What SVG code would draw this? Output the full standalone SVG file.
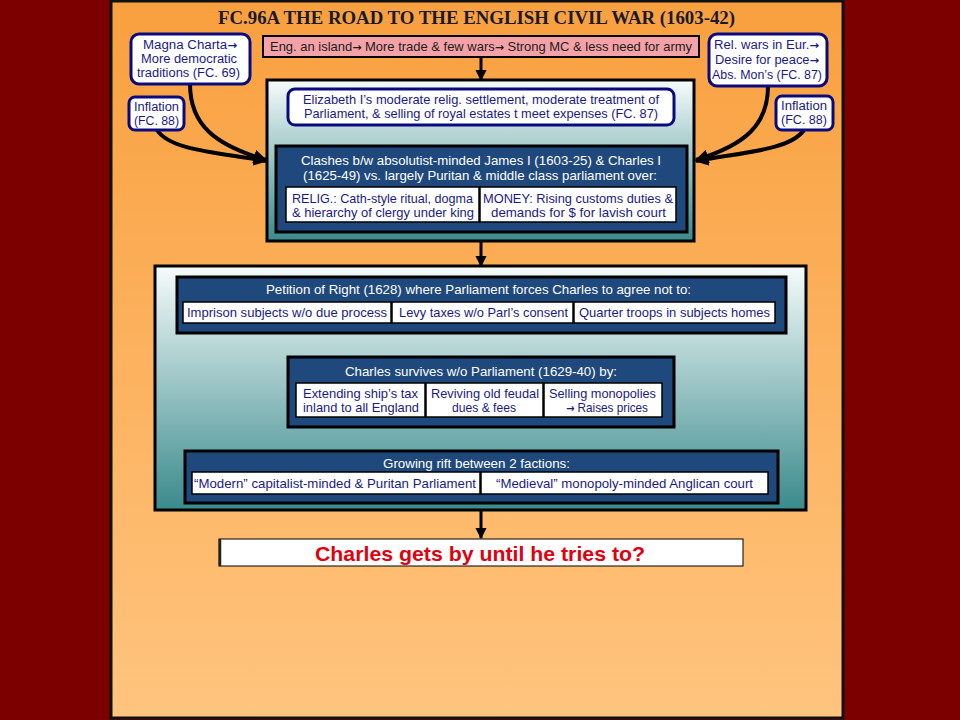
<svg xmlns="http://www.w3.org/2000/svg" width="960" height="720" viewBox="0 0 960 720">
<defs>
<linearGradient id="bg" x1="0" y1="0" x2="0" y2="1">
<stop offset="0" stop-color="#f9a03f"/>
<stop offset="1" stop-color="#ffc47e"/>
</linearGradient>
<linearGradient id="teal" x1="0" y1="0" x2="0" y2="1">
<stop offset="0" stop-color="#f6fbfb"/>
<stop offset="1" stop-color="#3a8a8c"/>
</linearGradient>
<marker id="ah" viewBox="0 0 10 10" refX="9" refY="5" markerWidth="3.4" markerHeight="3.4" orient="auto" markerUnits="strokeWidth">
<path d="M0,0 L10,5 L0,10 z" fill="#000"/>
</marker>
<marker id="ahv" viewBox="0 0 10 10" refX="9" refY="5" markerWidth="3.8" markerHeight="3.8" orient="auto" markerUnits="strokeWidth">
<path d="M0,0 L10,5 L0,10 z" fill="#000"/>
</marker>
</defs>
<style>
.t{font-family:"Liberation Sans",Arial,sans-serif;font-size:13px;text-anchor:middle}
.s{font-size:12.5px}
.ar{font-family:"DejaVu Sans",sans-serif;font-weight:bold;font-size:11px}
.nv{fill:#1a1a85}
.wh{fill:#ffffff}
.dk{fill:#1c1c1c}
.rb{fill:#fff;stroke:#0a0a80;stroke-width:3}
.db{fill:#1f497d;stroke:#000;stroke-width:3}
.wb{fill:#fff;stroke:#000;stroke-width:1.5}
.tl{fill:url(#teal);stroke:#000;stroke-width:3}
.cv{fill:none;stroke:#000;stroke-width:4;marker-end:url(#ah)}
.vt{fill:none;stroke:#000;stroke-width:3;marker-end:url(#ahv)}
</style>
<rect x="0" y="0" width="960" height="720" fill="#7d0000"/>
<rect x="111" y="1" width="732" height="717" fill="url(#bg)" stroke="#111" stroke-width="3"/>
<text x="476.5" y="24" text-anchor="middle" font-family="'Liberation Serif','Times New Roman',serif" font-weight="bold" font-size="19" fill="#1a1a2a" textLength="517" lengthAdjust="spacingAndGlyphs">FC.96A THE ROAD TO THE ENGLISH CIVIL WAR (1603-42)</text>

<g id="connectors">
<path class="vt" d="M481,57 L481,80"/>
<path class="vt" d="M481,125 L481,146"/>
<path class="vt" d="M481,241 L481,266"/>
<path class="vt" d="M481,333 L481,357"/>
<path class="vt" d="M481,427 L481,451"/>
<path class="vt" d="M481,510 L481,538"/>
<path class="cv" d="M190,84 C190,125 215,145 266,160"/>
<path class="cv" d="M157,130 C170,150 215,152 266,161"/>
<path class="cv" d="M768,86 C768,125 745,145 696,160"/>
<path class="cv" d="M804,130 C790,150 745,152 696,161"/>
</g>

<g id="island">
<rect x="263" y="36" width="436" height="21" fill="#f4a2a8" stroke="#000" stroke-width="2"/>
<text class="t dk" x="481" y="51" textLength="422" lengthAdjust="spacingAndGlyphs">Eng. an island<tspan class="ar">→</tspan> More trade &amp; few wars<tspan class="ar">→</tspan> Strong MC &amp; less need for army</text>
</g>

<g id="magna">
<rect class="rb" x="131" y="34" width="119" height="50" rx="8"/>
<text class="t s nv" x="190" y="48.5" textLength="94" lengthAdjust="spacingAndGlyphs">Magna Charta<tspan class="ar">→</tspan></text>
<text class="t s nv" x="189" y="63" textLength="96" lengthAdjust="spacingAndGlyphs">More democratic</text>
<text class="t s nv" x="188.5" y="77" textLength="103" lengthAdjust="spacingAndGlyphs">traditions (FC. 69)</text>
</g>
<g id="inflation-left">
<rect class="rb" x="129" y="97" width="55" height="33" rx="6"/>
<text class="t s nv" x="156.5" y="111" textLength="45" lengthAdjust="spacingAndGlyphs">Inflation</text>
<text class="t s nv" x="156.5" y="125" textLength="45" lengthAdjust="spacingAndGlyphs">(FC. 88)</text>
</g>
<g id="relwars">
<rect class="rb" x="709" y="34" width="118" height="52" rx="8"/>
<text class="t s nv" x="766.5" y="48.5" textLength="105" lengthAdjust="spacingAndGlyphs">Rel. wars in Eur.<tspan class="ar">→</tspan></text>
<text class="t s nv" x="767" y="63.5" textLength="104" lengthAdjust="spacingAndGlyphs">Desire for peace<tspan class="ar">→</tspan></text>
<text class="t s nv" x="767" y="78.5" textLength="110" lengthAdjust="spacingAndGlyphs">Abs. Mon’s (FC. 87)</text>
</g>
<g id="inflation-right">
<rect class="rb" x="776" y="96" width="57" height="34" rx="6"/>
<text class="t s nv" x="804" y="110" textLength="46" lengthAdjust="spacingAndGlyphs">Inflation</text>
<text class="t s nv" x="804" y="124" textLength="46" lengthAdjust="spacingAndGlyphs">(FC. 88)</text>
</g>

<g id="panel1">
<rect class="tl" x="267" y="80" width="427" height="161"/>
</g>
<g id="elizabeth">
<rect class="rb" x="288" y="89" width="386" height="36" rx="7"/>
<text class="t nv" x="481" y="104" textLength="356" lengthAdjust="spacingAndGlyphs">Elizabeth I’s moderate relig. settlement, moderate treatment of</text>
<text class="t nv" x="481" y="118" textLength="354" lengthAdjust="spacingAndGlyphs">Parliament, &amp; selling of royal estates t meet expenses (FC. 87)</text>
</g>
<g id="clashes">
<rect class="db" x="276" y="146" width="411" height="86"/>
<text class="t wh" x="481" y="165" textLength="360" lengthAdjust="spacingAndGlyphs">Clashes  b/w absolutist-minded James I (1603-25)  &amp; Charles  I</text>
<text class="t wh" x="480" y="180" textLength="354" lengthAdjust="spacingAndGlyphs">(1625-49)  vs. largely Puritan &amp; middle class parliament over:</text>
<rect class="wb" x="286" y="187" width="193" height="35"/>
<rect class="wb" x="480" y="187" width="196" height="35"/>
<text class="t nv" x="382.5" y="203" textLength="181" lengthAdjust="spacingAndGlyphs">RELIG.: Cath-style ritual, dogma</text>
<text class="t nv" x="383" y="217" textLength="182" lengthAdjust="spacingAndGlyphs">&amp; hierarchy of clergy under king</text>
<text class="t nv" x="578" y="203" textLength="190" lengthAdjust="spacingAndGlyphs">MONEY: Rising customs duties &amp;</text>
<text class="t nv" x="578.5" y="217" textLength="175" lengthAdjust="spacingAndGlyphs">demands for $ for  lavish court</text>
</g>

<g id="panel2">
<rect class="tl" x="155" y="266" width="651" height="244"/>
</g>
<g id="petition">
<rect class="db" x="177" y="277" width="609" height="56"/>
<text class="t wh" x="478.5" y="294" textLength="425" lengthAdjust="spacingAndGlyphs">Petition of Right (1628) where  Parliament  forces Charles to agree  not to:</text>
<rect class="wb" x="183" y="302" width="208" height="21"/>
<rect class="wb" x="392" y="302" width="181" height="21"/>
<rect class="wb" x="574" y="302" width="201" height="21"/>
<text class="t nv" x="287" y="317" textLength="200" lengthAdjust="spacingAndGlyphs">Imprison subjects w/o due process</text>
<text class="t nv" x="483.5" y="317" textLength="169" lengthAdjust="spacingAndGlyphs">Levy taxes w/o Parl’s consent</text>
<text class="t nv" x="674.5" y="317" textLength="191" lengthAdjust="spacingAndGlyphs">Quarter troops in subjects homes</text>
</g>
<g id="survives">
<rect class="db" x="288" y="357" width="386" height="70"/>
<text class="t wh" x="481" y="376" textLength="272" lengthAdjust="spacingAndGlyphs">Charles  survives w/o Parliament (1629-40)  by:</text>
<rect class="wb" x="296" y="383" width="129" height="34"/>
<rect class="wb" x="426" y="383" width="117" height="34"/>
<rect class="wb" x="544" y="383" width="118" height="34"/>
<text class="t nv" x="360.5" y="398" textLength="115" lengthAdjust="spacingAndGlyphs">Extending ship’s tax</text>
<text class="t nv" x="361" y="412" textLength="116" lengthAdjust="spacingAndGlyphs">inland to all England</text>
<text class="t nv" x="485" y="398" textLength="108" lengthAdjust="spacingAndGlyphs">Reviving old feudal</text>
<text class="t nv" x="484" y="412" textLength="64" lengthAdjust="spacingAndGlyphs">dues &amp; fees</text>
<text class="t nv" x="602.5" y="398" textLength="107" lengthAdjust="spacingAndGlyphs">Selling monopolies</text>
<text class="t nv" x="607" y="412" textLength="82" lengthAdjust="spacingAndGlyphs"><tspan class="ar">→</tspan> Raises prices</text>
</g>
<g id="rift">
<rect class="db" x="185" y="451" width="593" height="52"/>
<text class="t wh" x="476.5" y="468" textLength="187" lengthAdjust="spacingAndGlyphs">Growing rift between 2 factions:</text>
<rect class="wb" x="192" y="472" width="288" height="22"/>
<rect class="wb" x="481" y="472" width="287" height="22"/>
<text class="t nv" x="335" y="488" textLength="282" lengthAdjust="spacingAndGlyphs">“Modern” capitalist-minded &amp; Puritan Parliament</text>
<text class="t nv" x="624.5" y="488" textLength="257" lengthAdjust="spacingAndGlyphs">“Medieval” monopoly-minded  Anglican court</text>
</g>
<g id="final">
<rect x="219" y="539" width="524" height="27" fill="#fff" stroke="#000" stroke-width="1"/>
<line x1="220" y1="539" x2="220" y2="566" stroke="#222" stroke-width="2.5"/>
<text x="480" y="561" text-anchor="middle" font-family="'Liberation Sans',Arial,sans-serif" font-weight="bold" font-size="20.5" fill="#e00010" textLength="330" lengthAdjust="spacingAndGlyphs">Charles gets by until he tries to?</text>
</g>
</svg>
